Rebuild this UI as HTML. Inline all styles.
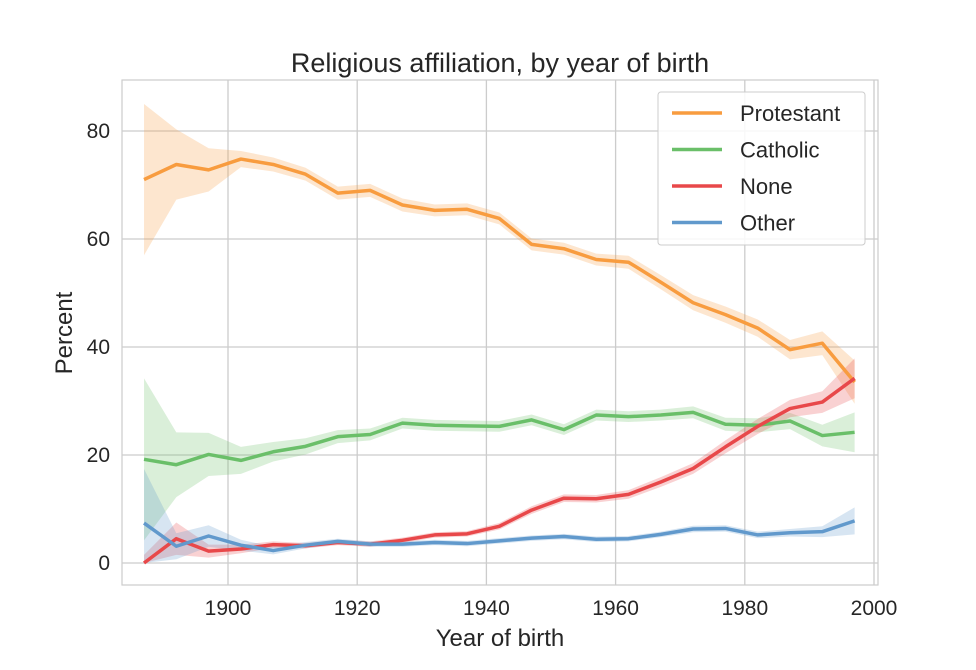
<!DOCTYPE html>
<html><head><meta charset="utf-8"><style>
html,body{margin:0;padding:0;background:#fff;}
svg{display:block;font-family:"Liberation Sans",sans-serif;}
</style></head><body>
<svg id="chart" width="976" height="670">
<rect x="122" y="80" width="756" height="505" fill="#fff" stroke="#cccccc" stroke-width="1.2"/>
<g id="grid"></g><g id="bands"></g><g id="lines"></g><g id="ticks"></g>
<text x="500" y="72" text-anchor="middle" font-size="27" fill="#262626">Religious affiliation, by year of birth</text>
<text x="500" y="646" text-anchor="middle" font-size="24" fill="#262626">Year of birth</text>
<text x="72" y="333" text-anchor="middle" font-size="24" fill="#262626" transform="rotate(-90 72 333)">Percent</text>
<g>
<rect x="658" y="92" width="207" height="153" rx="3" fill="#fff" fill-opacity="0.85" stroke="#cccccc"/>
<g id="legend-items"></g>
</g>
</svg>
<script>
const years=[1887,1892,1897,1902,1907,1912,1917,1922,1927,1932,1937,1942,1947,1952,1957,1962,1967,1972,1977,1982,1987,1992,1997];
const protestant=[71,73.8,72.8,74.8,73.8,72,68.5,69,66.3,65.3,65.5,63.8,59,58.2,56.2,55.7,52,48.2,46,43.5,39.5,40.7,33.5];
const catholic=[19.2,18.2,20.1,19,20.6,21.6,23.4,23.8,25.9,25.5,25.4,25.3,26.5,24.7,27.4,27.1,27.4,27.9,25.7,25.5,26.3,23.6,24.2];
const none=[0,4.5,2.2,2.6,3.4,3.2,3.8,3.5,4.2,5.2,5.4,6.8,9.8,12,11.9,12.7,15,17.5,21.5,25.3,28.6,29.8,34.2];
const other=[7.4,3.1,5,3.3,2.3,3.3,4,3.5,3.5,3.8,3.6,4.1,4.6,4.9,4.4,4.5,5.3,6.3,6.4,5.2,5.6,5.8,7.8];
const protestantCI=[14,6.5,4,1.5,1.3,1.2,1.2,1.2,1.2,1.1,1.1,1.1,1.1,1.1,1.1,1.2,1.3,1.4,1.5,1.6,1.8,2.2,4];
const catholicCI=[15,6,4,2.5,1.8,1.5,1.2,1.1,1,1,1,1,1,1,1,1,1,1.1,1.2,1.3,1.5,2,3.7];
const noneCI=[1.5,3,1.2,0.8,0.6,0.5,0.5,0.5,0.5,0.5,0.5,0.6,0.7,0.7,0.7,0.8,0.9,1,1.2,1.4,1.6,2,3.7];
const otherCI=[10,2.4,2,1,0.7,0.6,0.5,0.5,0.5,0.5,0.5,0.5,0.5,0.5,0.5,0.5,0.5,0.6,0.6,0.6,0.7,1,2.5];
const xTicks=[1900,1920,1940,1960,1980,2000];
const yTicks=[0,20,40,60,80];
const seriesNames=["Protestant","Catholic","None","Other"];
const NS="http://www.w3.org/2000/svg";
function X(v){return 228+(v-1900)*129.2/20;}
function Y(v){return 563-v*108/20;}
function mk(t,a,p){const e=document.createElementNS(NS,t);for(const k in a)e.setAttribute(k,a[k]);p.appendChild(e);return e;}
const grid=document.getElementById('grid'),ticks=document.getElementById('ticks');
xTicks.forEach(t=>{const l=mk('line',{x1:X(t),x2:X(t),y1:80,y2:585,stroke:'#cccccc','stroke-width':1.3},grid);

const tx=mk('text',{x:X(t),y:615,'text-anchor':'middle','font-size':21,fill:'#262626'},ticks);tx.textContent=t;
});
yTicks.forEach(t=>{const l=mk('line',{x1:122,x2:878,y1:Y(t),y2:Y(t),stroke:'#cccccc','stroke-width':1.3},grid);

const tx=mk('text',{x:110,y:Y(t)+7,'text-anchor':'end','font-size':21,fill:'#262626'},ticks);tx.textContent=t;
});
const series=[[protestant,protestantCI,'#f89c3f'],[catholic,catholicCI,'#6abf69'],[none,noneCI,'#e8484a'],[other,otherCI,'#6199cc']];
const bands=document.getElementById('bands'),lines=document.getElementById('lines'),leg=document.getElementById('legend-items');
series.forEach((s,i)=>{const [v,ci,c]=s;
let up=years.map((y,j)=>X(y)+','+Y(v[j]+ci[j]));let lo=years.map((y,j)=>X(y)+','+Y(Math.max(0,v[j]-ci[j]))).reverse();
const b=mk('polygon',{points:up.concat(lo).join(' '),fill:c,'fill-opacity':0.25},bands);

const l=mk('polyline',{points:years.map((y,j)=>X(y)+','+Y(v[j])).join(' '),fill:'none',stroke:c,'stroke-width':3.5,'stroke-linejoin':'round'},lines);

const yy=113+i*36.5;
const ll=mk('line',{x1:672,x2:722,y1:yy,y2:yy,stroke:c,'stroke-width':3.5},leg);

const t=mk('text',{x:740,y:yy+8,'font-size':22,fill:'#262626'},leg);t.textContent=seriesNames[i];
});
</script>
</body></html>
